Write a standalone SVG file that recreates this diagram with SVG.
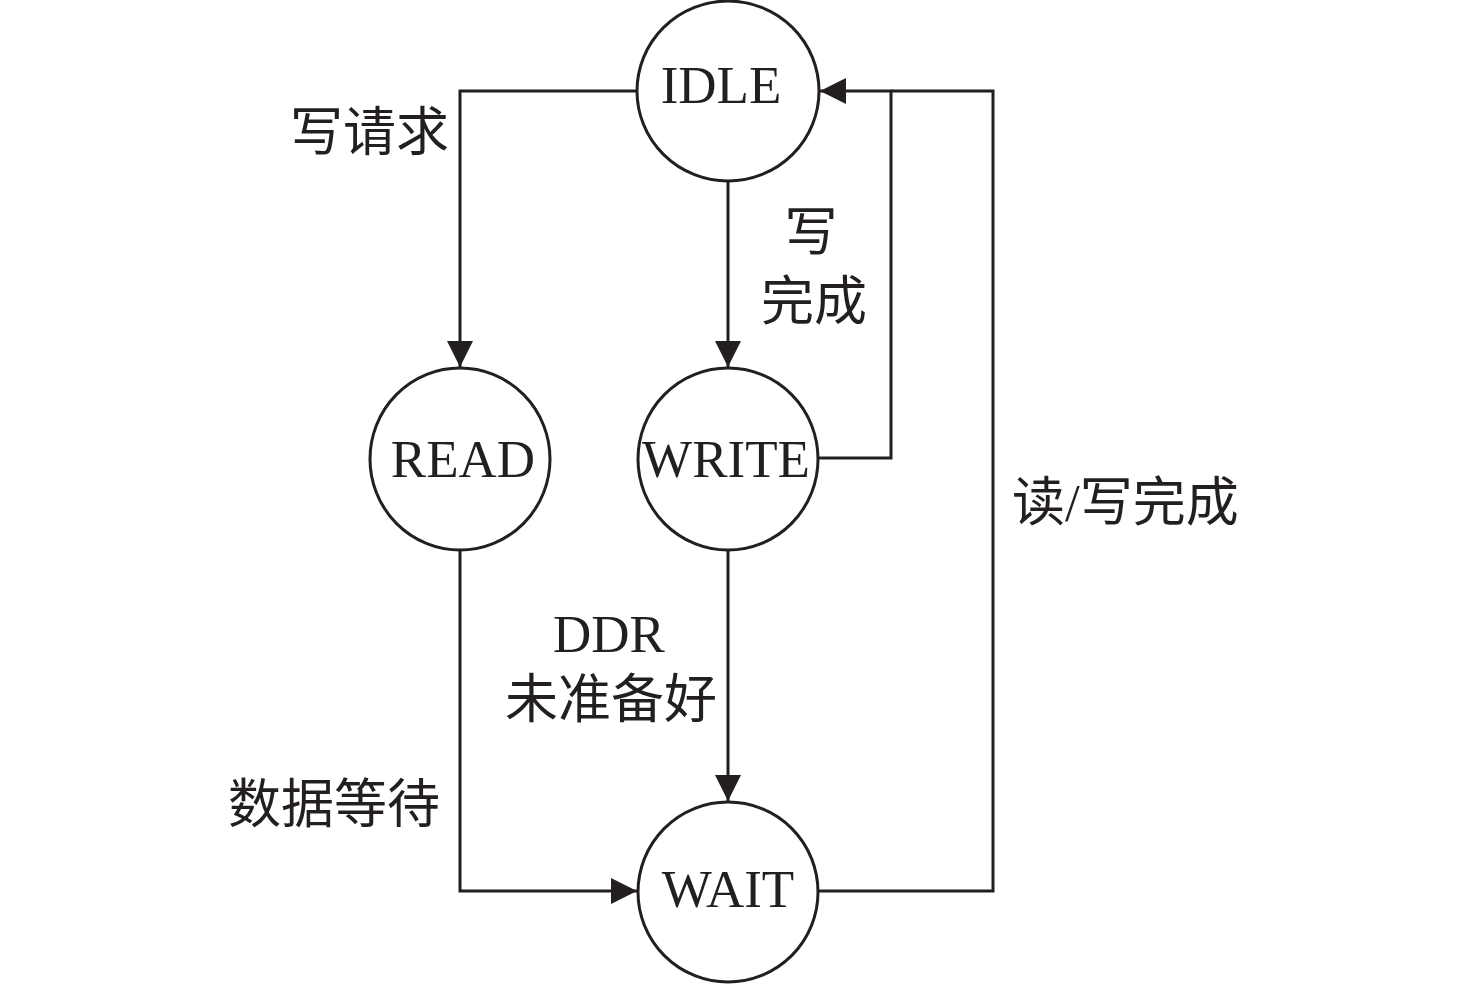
<svg xmlns="http://www.w3.org/2000/svg" width="1476" height="984" viewBox="0 0 1476 984">
<style>
.node{fill:#fff;stroke:#231f20;stroke-width:3}
.lbl{font-family:"Liberation Serif","Times New Roman",serif;font-size:53px;fill:#231f20;text-anchor:middle}
.cn{font-family:"Liberation Serif","Noto Sans CJK SC",serif;font-size:53px;fill:#231f20}
.edge{fill:none;stroke:#231f20;stroke-width:3}
</style>
<defs>
<marker id="arr" viewBox="0 0 26 26" refX="26" refY="13" markerWidth="26" markerHeight="26" markerUnits="userSpaceOnUse" orient="auto">
<path d="M0,0 L26,13 L0,26 z" fill="#231f20"/>
</marker>
</defs>
<rect width="1476" height="984" fill="#fff"/>
<g id="connectors">
<path class="edge" d="M637 91 H460 V367" marker-end="url(#arr)"/>
<path class="edge" d="M728 182 V367" marker-end="url(#arr)"/>
<path class="edge" d="M819 458 H891 V91 H820" marker-end="url(#arr)"/>
<path class="edge" d="M728 550 V801" marker-end="url(#arr)"/>
<path class="edge" d="M460 550 V891 H637" marker-end="url(#arr)"/>
<path class="edge" d="M819 891 H993 V91 H891"/>
</g>
<g id="labels">
<text class="cn" x="290" y="151">写请求</text>
<text class="cn" x="811" y="251" text-anchor="middle">写</text>
<text class="cn" x="814" y="320" text-anchor="middle">完成</text>
<text class="lbl" x="609" y="652">DDR</text>
<text class="cn" x="611" y="718" text-anchor="middle">未准备好</text>
<text class="cn" x="228" y="823">数据等待</text>
<text class="cn" x="1012" y="521">读/写完成</text>
</g>
<g id="node-idle"><ellipse class="node" cx="728" cy="91" rx="91" ry="90"/><text class="lbl" x="721" y="103">IDLE</text></g>
<g id="node-read"><ellipse class="node" cx="460" cy="459" rx="90" ry="91"/><text class="lbl" x="463" y="477">READ</text></g>
<g id="node-write"><ellipse class="node" cx="728" cy="459" rx="90" ry="91"/><text class="lbl" x="726" y="477">WRITE</text></g>
<g id="node-wait"><ellipse class="node" cx="728" cy="892" rx="90" ry="90"/><text class="lbl" x="728" y="907">WAIT</text></g>
</svg>
